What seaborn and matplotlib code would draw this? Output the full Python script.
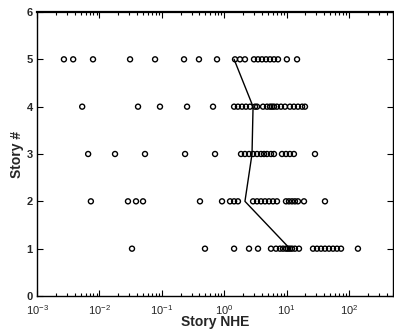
import numpy as np
import pandas as pd
import matplotlib
matplotlib.use("Agg")
import matplotlib.pyplot as plt
import matplotlib.ticker as mticker
import seaborn as sns

# ─── DATA ───────────────────────────────────────────────────────────────
story5 = [0.0027, 0.0038, 0.0079, 0.031, 0.078, 0.227, 0.394, 0.767,
          1.49, 1.79, 2.15, 3.0, 3.48, 4.03, 4.68, 5.42, 6.28, 7.28, 10.1, 14.7]
story4 = [0.0053, 0.0416, 0.0935, 0.254, 0.662,
          1.44, 1.66, 1.93, 2.23, 2.59, 3.12, 3.36, 4.19, 4.85, 5.42, 5.83,
          6.28, 7.01, 8.12, 9.42, 11.3, 13.1, 15.2, 17.7, 19.7]
story3 = [0.0066, 0.0178, 0.0538, 0.236, 0.713,
          1.86, 2.15, 2.50, 2.90, 3.36, 3.89, 4.35, 4.85, 5.62, 6.28,
          8.43, 9.77, 11.3, 13.1, 28.5]
story2 = [0.0073, 0.0287, 0.0386, 0.050, 0.409, 0.923,
          1.24, 1.44, 1.66, 2.90, 3.36, 3.89, 4.51, 5.22, 6.05, 7.01,
          9.77, 10.9, 12.2, 13.6, 15.2, 19.0, 41.2]
story1 = [0.0333, 0.492, 1.44, 2.50, 3.48, 5.62,
          6.76, 7.83, 8.75, 9.77, 10.5, 11.3, 12.2, 13.6, 15.8,
          26.5, 30.7, 35.6, 41.2, 47.8, 55.4, 64.2, 74.5, 139]

line_stories = [5, 4, 3, 2, 1]
line_nhe = [1.44, 2.9, 2.79, 2.15, 11.3]


def build_points():
    rows = []
    for story, vals in zip([5, 4, 3, 2, 1], [story5, story4, story3, story2, story1]):
        for v in vals:
            rows.append({'NHE': v, 'Story': story})
    return pd.DataFrame(rows)


def main():
    sns.set_style("ticks")
    plt.rcParams['font.family'] = ['Liberation Sans', 'DejaVu Sans']
    plt.rcParams['mathtext.fontset'] = 'custom'
    plt.rcParams['mathtext.rm'] = 'Liberation Sans:bold'
    plt.rcParams['mathtext.it'] = 'Liberation Sans:bold'
    plt.rcParams['mathtext.bf'] = 'Liberation Sans:bold'

    pts = build_points()
    line_df = pd.DataFrame({'NHE': line_nhe, 'Story': line_stories})

    fig = plt.figure(figsize=(3.94, 3.33), dpi=100)
    ax = fig.add_axes([37 / 394, 37 / 333, 356 / 394, 284 / 333])

    sns.scatterplot(data=pts, x='NHE', y='Story', ax=ax, marker='o',
                    s=13, facecolor='none', edgecolor='black', linewidth=1.0)
    sns.lineplot(data=line_df, x='NHE', y='Story', ax=ax, sort=False,
                 estimator=None, color='black', linewidth=1.0)

    ax.set_xscale('log')
    ax.set_xlim(1e-3, 10 ** 2.705)
    ax.set_ylim(0, 6)
    ax.set_yticks(range(0, 7))

    ax.xaxis.set_major_locator(mticker.LogLocator(base=10, numticks=10))
    ax.xaxis.set_minor_locator(mticker.LogLocator(base=10, subs=np.arange(2, 10), numticks=20))
    ax.xaxis.set_minor_formatter(mticker.NullFormatter())

    ax.tick_params(which='both', direction='in', top=True, right=True,
                   color='black', width=0.8)
    ax.tick_params(which='major', length=4, labelsize=8)
    ax.tick_params(axis='x', which='major', pad=5)
    ax.tick_params(axis='y', which='major', pad=3)
    ax.tick_params(which='minor', length=2)
    for lab in ax.get_yticklabels():
        lab.set_fontweight('bold')

    for sp in ax.spines.values():
        sp.set_visible(True)
        sp.set_color('black')
        sp.set_linewidth(1.0)
    ax.spines['top'].set_linewidth(1.6)

    ax.set_xlabel('Story NHE', fontsize=10, fontweight='bold', labelpad=-1)
    ax.set_ylabel('Story #', fontsize=10, fontweight='bold', labelpad=2)

    fig.savefig('out.png', dpi=100)


if __name__ == '__main__':
    main()
